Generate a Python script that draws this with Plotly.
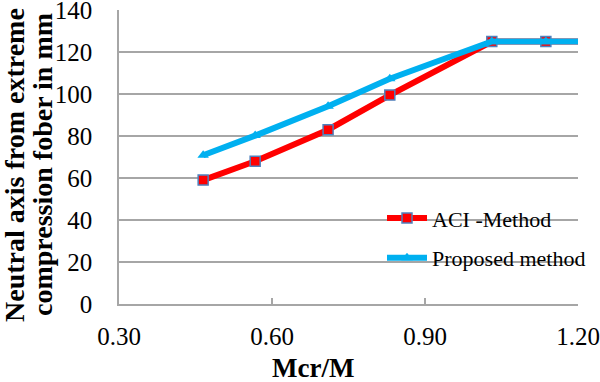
import plotly.graph_objects as go

mcr_m = [0.465, 0.567, 0.71, 0.831, 1.031, 1.137, 1.25]
aci_method = [59, 68, 83, 99.5, 125, 125, 125]
proposed_method = [70.8, 80.2, 94.2, 107.3, 125, 125, 125]
x_ticks = [0.30, 0.60, 0.90, 1.20]
y_ticks = [0, 20, 40, 60, 80, 100, 120, 140]
y_title_lines = ["Neutral axis from extreme", "compression fober in mm"]
x_title = "Mcr/M"

FONT = "Liberation Serif, Times New Roman, serif"

fig = go.Figure()
fig.add_trace(go.Scatter(
    x=mcr_m, y=aci_method, name="ACI -Method", mode="lines+markers",
    legendgroup="aci",
    line=dict(color="#ff0000", width=6),
    marker=dict(symbol="square", size=10, color="#ff0000",
                line=dict(color="#4f81bd", width=1.5)),
    cliponaxis=True,
))
fig.add_trace(go.Scatter(
    x=mcr_m, y=proposed_method, name="Proposed method", mode="lines+markers",
    legendgroup="prop",
    line=dict(color="#00b0f0", width=6),
    marker=dict(symbol="triangle-up", size=10, color="#00b0f0"),
    cliponaxis=True,
))

# y-axis title, two rotated lines
for text, xs in zip(y_title_lines, [-105, -77]):
    fig.add_annotation(
        text=f"<b>{text}</b>", textangle=-90, showarrow=False,
        xref="paper", yref="paper", x=0, y=0.5, xshift=xs, yshift=-8,
        xanchor="center", yanchor="middle",
        font=dict(size=28, family=FONT, color="black"),
    )
# x-axis title
fig.add_annotation(
    text=f"<b>{x_title}</b>", showarrow=False,
    xref="paper", yref="paper", x=0.5, y=0, xshift=-36, yshift=-64,
    xanchor="center", yanchor="middle",
    font=dict(size=27, family=FONT, color="black"),
)

fig.update_layout(
    width=600, height=382,
    margin=dict(l=119, r=22, t=10, b=78, autoexpand=False),
    paper_bgcolor="white", plot_bgcolor="white",
    font=dict(family=FONT, color="black"),
    showlegend=True,
    legend=dict(x=0.573, y=0.363, xanchor="left", yanchor="top",
                font=dict(size=22, family=FONT), bgcolor="rgba(0,0,0,0)",
                tracegroupgap=8, itemwidth=40),
    xaxis=dict(
        range=[0.30, 1.20], tickvals=x_ticks, tickformat=".2f",
        showgrid=False, showline=True, linecolor="#a6a6a6", linewidth=1.5,
        ticks="inside", ticklen=6, tickcolor="#a6a6a6", tickwidth=1.5,
        tickfont=dict(size=25, family=FONT), ticklabelstandoff=9,
        ticklabeloverflow="allow", automargin=False,
        zeroline=False,
    ),
    yaxis=dict(
        range=[0, 140], tickvals=y_ticks,
        showgrid=True, gridcolor="#a6a6a6", gridwidth=1.5,
        showline=True, linecolor="#a6a6a6", linewidth=1.5,
        ticks="", tickfont=dict(size=25, family=FONT), ticklabelstandoff=20,
        ticklabeloverflow="allow", automargin=False,
        zeroline=False,
    ),
)

fig.write_html(
    "out.html",
    config={"displayModeBar": False},
    post_script="document.body.style.margin='0';document.body.style.padding='0';",
)
